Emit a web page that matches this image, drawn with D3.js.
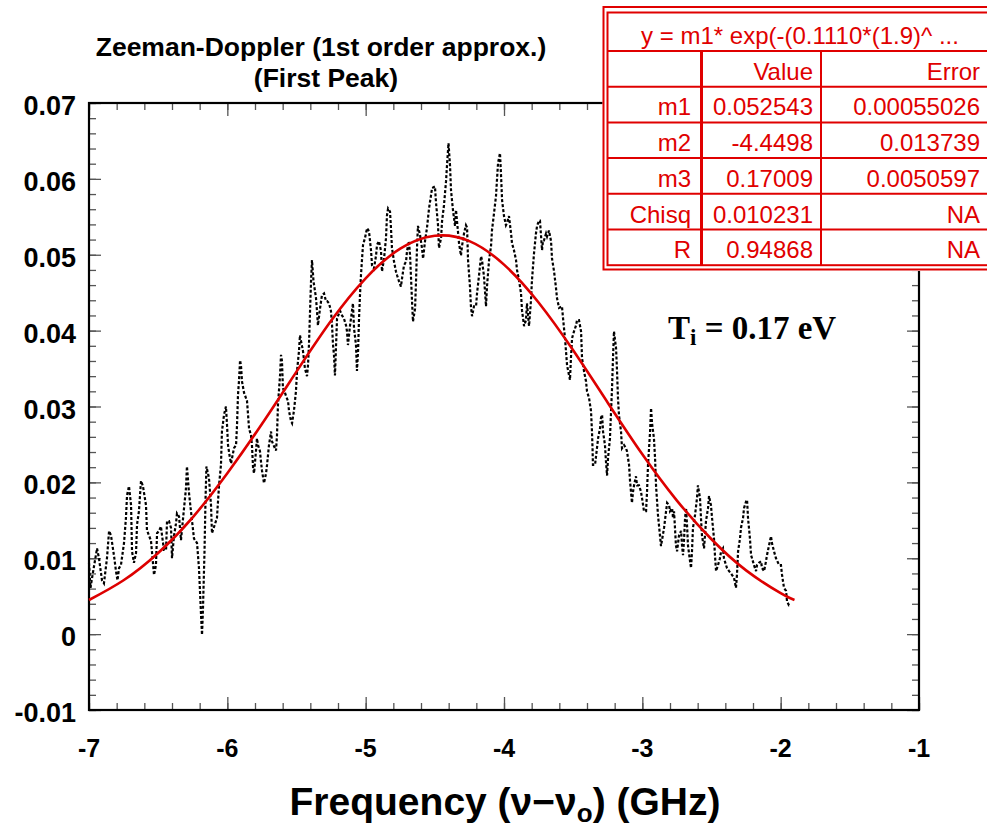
<!DOCTYPE html>
<html><head><meta charset="utf-8">
<script src="https://cdn.jsdelivr.net/npm/d3@7"></script>
<style>body{margin:0;background:#fff}svg{display:block}</style>
</head><body>
<svg id="c" width="987" height="830"></svg>
<script>
const xTicks = [-7, -6, -5, -4, -3, -2, -1];
const xTickLabels = ["-7", "-6", "-5", "-4", "-3", "-2", "-1"];
const yTicks = [-0.01, 0, 0.01, 0.02, 0.03, 0.04, 0.05, 0.06, 0.07];
const yTickLabels = ["-0.01", "0", "0.01", "0.02", "0.03", "0.04", "0.05", "0.06", "0.07"];

// measured spectrum [frequency GHz, signal]
const signal = [
[-7.000,0.0094],[-6.989,0.0061],[-6.978,0.0074],[-6.942,0.0113],[-6.928,0.0100],[-6.906,0.0071],[-6.892,0.0067],[-6.870,0.0100],
[-6.855,0.0136],[-6.841,0.0130],[-6.819,0.0103],[-6.805,0.0083],[-6.794,0.0071],[-6.783,0.0087],[-6.769,0.0091],[-6.747,0.0120],
[-6.733,0.0153],[-6.725,0.0183],[-6.711,0.0195],[-6.696,0.0170],[-6.689,0.0109],[-6.675,0.0094],[-6.660,0.0107],[-6.653,0.0144],
[-6.639,0.0162],[-6.624,0.0202],[-6.610,0.0195],[-6.588,0.0170],[-6.581,0.0137],[-6.552,0.0123],[-6.545,0.0109],[-6.530,0.0078],
[-6.516,0.0091],[-6.508,0.0133],[-6.494,0.0136],[-6.480,0.0142],[-6.472,0.0130],[-6.458,0.0111],[-6.443,0.0111],[-6.436,0.0149],
[-6.422,0.0149],[-6.407,0.0140],[-6.400,0.0100],[-6.386,0.0129],[-6.371,0.0146],[-6.364,0.0159],[-6.349,0.0155],[-6.335,0.0124],
[-6.313,0.0166],[-6.299,0.0192],[-6.292,0.0221],[-6.277,0.0186],[-6.263,0.0162],[-6.241,0.0126],[-6.219,0.0120],[-6.205,0.0087],
[-6.190,0.0025],[-6.183,-0.0001],[-6.176,0.0034],[-6.165,0.0109],[-6.158,0.0175],[-6.151,0.0221],[-6.133,0.0206],[-6.118,0.0170],
[-6.111,0.0133],[-6.075,0.0153],[-6.060,0.0196],[-6.046,0.0223],[-6.039,0.0267],[-6.024,0.0289],[-6.010,0.0300],[-6.002,0.0275],
[-5.995,0.0249],[-5.981,0.0232],[-5.973,0.0225],[-5.966,0.0232],[-5.952,0.0245],[-5.937,0.0249],[-5.930,0.0275],[-5.923,0.0315],
[-5.916,0.0333],[-5.908,0.0361],[-5.901,0.0353],[-5.894,0.0333],[-5.879,0.0318],[-5.865,0.0311],[-5.858,0.0308],[-5.843,0.0271],
[-5.829,0.0262],[-5.822,0.0249],[-5.814,0.0219],[-5.807,0.0212],[-5.793,0.0241],[-5.786,0.0258],[-5.778,0.0249],[-5.764,0.0241],
[-5.757,0.0228],[-5.749,0.0215],[-5.735,0.0199],[-5.720,0.0212],[-5.713,0.0223],[-5.699,0.0249],[-5.684,0.0267],[-5.677,0.0254],
[-5.663,0.0248],[-5.648,0.0242],[-5.641,0.0262],[-5.634,0.0302],[-5.619,0.0341],[-5.612,0.0368],[-5.605,0.0360],[-5.598,0.0324],
[-5.583,0.0318],[-5.576,0.0314],[-5.561,0.0307],[-5.554,0.0294],[-5.540,0.0281],[-5.532,0.0278],[-5.518,0.0295],[-5.504,0.0320],
[-5.496,0.0347],[-5.482,0.0373],[-5.475,0.0394],[-5.467,0.0386],[-5.453,0.0373],[-5.439,0.0350],[-5.424,0.0340],[-5.417,0.0354],
[-5.410,0.0381],[-5.402,0.0426],[-5.395,0.0465],[-5.388,0.0493],[-5.377,0.0465],[-5.359,0.0443],[-5.352,0.0426],[-5.345,0.0407],
[-5.330,0.0429],[-5.316,0.0447],[-5.301,0.0449],[-5.287,0.0439],[-5.279,0.0439],[-5.265,0.0436],[-5.251,0.0426],[-5.243,0.0407],
[-5.236,0.0381],[-5.229,0.0368],[-5.222,0.0341],[-5.214,0.0381],[-5.207,0.0416],[-5.185,0.0426],[-5.171,0.0420],[-5.157,0.0416],
[-5.142,0.0407],[-5.135,0.0399],[-5.128,0.0381],[-5.113,0.0407],[-5.106,0.0416],[-5.099,0.0426],[-5.092,0.0436],[-5.084,0.0403],
[-5.070,0.0381],[-5.063,0.0347],[-5.055,0.0373],[-5.048,0.0416],[-5.041,0.0447],[-5.034,0.0473],[-5.026,0.0495],[-5.019,0.0513],
[-5.005,0.0522],[-4.990,0.0535],[-4.976,0.0531],[-4.961,0.0505],[-4.954,0.0486],[-4.940,0.0482],[-4.925,0.0499],[-4.918,0.0513],
[-4.904,0.0518],[-4.889,0.0505],[-4.882,0.0478],[-4.867,0.0495],[-4.853,0.0522],[-4.846,0.0552],[-4.838,0.0561],[-4.824,0.0557],
[-4.817,0.0535],[-4.810,0.0509],[-4.795,0.0491],[-4.781,0.0478],[-4.773,0.0473],[-4.759,0.0465],[-4.745,0.0458],[-4.737,0.0469],
[-4.723,0.0486],[-4.708,0.0491],[-4.701,0.0505],[-4.687,0.0518],[-4.679,0.0499],[-4.672,0.0469],[-4.665,0.0439],[-4.658,0.0412],
[-4.643,0.0429],[-4.636,0.0465],[-4.629,0.0509],[-4.622,0.0538],[-4.607,0.0526],[-4.593,0.0509],[-4.585,0.0495],[-4.571,0.0518],
[-4.557,0.0535],[-4.542,0.0561],[-4.528,0.0578],[-4.520,0.0588],[-4.499,0.0590],[-4.492,0.0570],[-4.477,0.0539],[-4.470,0.0509],
[-4.455,0.0522],[-4.448,0.0544],[-4.434,0.0565],[-4.419,0.0597],[-4.412,0.0618],[-4.401,0.0647],[-4.390,0.0617],[-4.383,0.0585],
[-4.369,0.0559],[-4.354,0.0538],[-4.347,0.0559],[-4.340,0.0545],[-4.325,0.0515],[-4.311,0.0499],[-4.304,0.0511],[-4.289,0.0528],
[-4.275,0.0539],[-4.267,0.0536],[-4.260,0.0493],[-4.246,0.0458],[-4.239,0.0432],[-4.231,0.0419],[-4.217,0.0432],[-4.202,0.0432],
[-4.195,0.0449],[-4.181,0.0472],[-4.166,0.0498],[-4.159,0.0493],[-4.145,0.0472],[-4.130,0.0432],[-4.123,0.0458],[-4.108,0.0493],
[-4.094,0.0511],[-4.087,0.0532],[-4.072,0.0555],[-4.058,0.0577],[-4.051,0.0598],[-4.043,0.0621],[-4.029,0.0634],[-4.022,0.0607],
[-4.014,0.0572],[-4.000,0.0551],[-3.986,0.0539],[-3.978,0.0542],[-3.964,0.0551],[-3.949,0.0528],[-3.942,0.0515],[-3.928,0.0506],
[-3.913,0.0493],[-3.906,0.0480],[-3.891,0.0466],[-3.877,0.0449],[-3.870,0.0427],[-3.855,0.0406],[-3.841,0.0414],[-3.834,0.0436],
[-3.819,0.0406],[-3.805,0.0440],[-3.798,0.0466],[-3.783,0.0502],[-3.769,0.0528],[-3.761,0.0538],[-3.747,0.0545],[-3.740,0.0545],
[-3.725,0.0506],[-3.718,0.0519],[-3.711,0.0519],[-3.696,0.0528],[-3.689,0.0524],[-3.675,0.0532],[-3.660,0.0518],[-3.653,0.0495],
[-3.638,0.0478],[-3.624,0.0456],[-3.617,0.0443],[-3.602,0.0430],[-3.581,0.0432],[-3.573,0.0416],[-3.559,0.0390],[-3.544,0.0354],
[-3.523,0.0335],[-3.516,0.0364],[-3.508,0.0390],[-3.494,0.0399],[-3.479,0.0407],[-3.472,0.0414],[-3.458,0.0414],[-3.443,0.0399],
[-3.436,0.0364],[-3.422,0.0347],[-3.407,0.0333],[-3.400,0.0320],[-3.385,0.0311],[-3.371,0.0294],[-3.364,0.0267],[-3.360,0.0245],
[-3.357,0.0223],[-3.342,0.0223],[-3.328,0.0245],[-3.320,0.0258],[-3.306,0.0271],[-3.299,0.0285],[-3.291,0.0289],[-3.284,0.0267],
[-3.270,0.0249],[-3.263,0.0228],[-3.255,0.0209],[-3.248,0.0232],[-3.234,0.0258],[-3.226,0.0294],[-3.219,0.0324],[-3.212,0.0364],
[-3.205,0.0399],[-3.190,0.0377],[-3.183,0.0347],[-3.176,0.0311],[-3.169,0.0289],[-3.154,0.0267],[-3.147,0.0245],[-3.132,0.0249],
[-3.118,0.0245],[-3.111,0.0241],[-3.096,0.0223],[-3.089,0.0202],[-3.075,0.0173],[-3.067,0.0188],[-3.060,0.0196],[-3.046,0.0208],
[-3.038,0.0196],[-3.024,0.0196],[-3.010,0.0188],[-3.002,0.0179],[-2.988,0.0162],[-2.973,0.0162],[-2.966,0.0188],[-2.959,0.0223],
[-2.944,0.0267],[-2.937,0.0298],[-2.930,0.0278],[-2.916,0.0258],[-2.908,0.0232],[-2.901,0.0196],[-2.887,0.0157],[-2.865,0.0116],
[-2.843,0.0140],[-2.821,0.0173],[-2.807,0.0170],[-2.800,0.0162],[-2.785,0.0166],[-2.778,0.0153],[-2.771,0.0162],[-2.764,0.0140],
[-2.757,0.0117],[-2.749,0.0109],[-2.735,0.0130],[-2.720,0.0136],[-2.713,0.0117],[-2.706,0.0104],[-2.699,0.0123],[-2.691,0.0153],
[-2.684,0.0166],[-2.677,0.0144],[-2.670,0.0117],[-2.655,0.0096],[-2.648,0.0087],[-2.641,0.0109],[-2.634,0.0140],[-2.619,0.0157],
[-2.605,0.0179],[-2.598,0.0196],[-2.583,0.0179],[-2.576,0.0153],[-2.569,0.0130],[-2.554,0.0113],[-2.547,0.0130],[-2.540,0.0149],
[-2.525,0.0166],[-2.518,0.0182],[-2.504,0.0170],[-2.496,0.0153],[-2.482,0.0126],[-2.475,0.0104],[-2.467,0.0083],[-2.453,0.0091],
[-2.439,0.0100],[-2.431,0.0109],[-2.417,0.0113],[-2.410,0.0100],[-2.395,0.0091],[-2.388,0.0087],[-2.373,0.0083],[-2.359,0.0080],
[-2.352,0.0078],[-2.337,0.0074],[-2.323,0.0061],[-2.316,0.0078],[-2.308,0.0109],[-2.294,0.0126],[-2.287,0.0140],[-2.272,0.0153],
[-2.265,0.0166],[-2.250,0.0175],[-2.243,0.0177],[-2.236,0.0153],[-2.222,0.0126],[-2.214,0.0104],[-2.207,0.0100],[-2.193,0.0091],
[-2.178,0.0083],[-2.171,0.0091],[-2.157,0.0094],[-2.142,0.0096],[-2.135,0.0087],[-2.120,0.0083],[-2.106,0.0096],[-2.099,0.0104],
[-2.084,0.0117],[-2.070,0.0129],[-2.063,0.0120],[-2.048,0.0109],[-2.034,0.0100],[-2.026,0.0097],[-2.012,0.0091],[-1.998,0.0091],
[-1.990,0.0078],[-1.976,0.0061],[-1.961,0.0057],[-1.954,0.0043],[-1.940,0.0038],[-1.925,0.0038]
];

// fitted Gaussian curve
const fitFreq  = [-7.0, -6.75, -6.5, -6.25, -6.0, -5.75, -5.5, -5.25, -5.0, -4.75, -4.5, -4.25, -4.0, -3.75, -3.5, -3.25, -3.0, -2.75, -2.5, -2.25, -2.0, -1.9];
const fitValue = [0.0045, 0.0071, 0.0107, 0.0154, 0.0212, 0.0277, 0.0346, 0.0413, 0.0469, 0.0508, 0.0525, 0.0518, 0.0487, 0.0437, 0.0374, 0.0305, 0.0237, 0.0176, 0.0125, 0.0084, 0.0054, 0.0045];

const tableTitle = "y = m1* exp(-(0.1110*(1.9)^ ...";
const tableHead = ["", "Value", "Error"];
const tableNames = ["m1", "m2", "m3", "Chisq", "R"];
const tableValues = ["0.052543", "-4.4498", "0.17009", "0.010231", "0.94868"];
const tableErrors = ["0.00055026", "0.013739", "0.0050597", "NA", "NA"];

const svg = d3.select("#c");
const L = 89, R = 919, T = 103, B = 710;
const x = d3.scaleLinear().domain([-7, -1]).range([L, R]);
const y = d3.scaleLinear().domain([-0.01, 0.07]).range([B, T]);

const tickColor = "#555";
function styleAxis(g) {
  g.select(".domain").remove();
  g.selectAll(".tick line").attr("stroke", tickColor).attr("stroke-width", 1.3);
  g.selectAll("text").remove();
}
const xMinor = d3.range(-7, -0.99, 0.2).map(v => +v.toFixed(2));
const yMinor = d3.range(-0.01, 0.0701, 0.002).map(v => +v.toFixed(4));

// bottom & top ticks (inward)
svg.append("g").attr("transform", `translate(0,${B})`).call(d3.axisBottom(x).tickValues(xMinor).tickSize(-7)).call(styleAxis);
svg.append("g").attr("transform", `translate(0,${B})`).call(d3.axisBottom(x).tickValues(xTicks).tickSize(-13)).call(styleAxis);
svg.append("g").attr("transform", `translate(0,${T})`).call(d3.axisTop(x).tickValues(xMinor).tickSize(-7)).call(styleAxis);
svg.append("g").attr("transform", `translate(0,${T})`).call(d3.axisTop(x).tickValues(xTicks).tickSize(-13)).call(styleAxis);
// left & right ticks (inward)
svg.append("g").attr("transform", `translate(${L},0)`).call(d3.axisLeft(y).tickValues(yMinor).tickSize(-7)).call(styleAxis);
svg.append("g").attr("transform", `translate(${L},0)`).call(d3.axisLeft(y).tickValues(yTicks).tickSize(-12)).call(styleAxis);
svg.append("g").attr("transform", `translate(${R},0)`).call(d3.axisRight(y).tickValues(yMinor).tickSize(-7)).call(styleAxis);
svg.append("g").attr("transform", `translate(${R},0)`).call(d3.axisRight(y).tickValues(yTicks).tickSize(-12)).call(styleAxis);

// frame
svg.append("rect").attr("x", L).attr("y", T).attr("width", R - L).attr("height", B - T)
  .attr("fill", "none").attr("stroke", "#000").attr("stroke-width", 2.2);

// tick labels
svg.append("g").selectAll("text").data(yTicks).join("text")
  .attr("x", 76).attr("y", d => y(d) + 12)
  .attr("text-anchor", "end").attr("font-family", "Liberation Sans, Arial, sans-serif")
  .attr("font-weight", "bold").attr("font-size", 27)
  .text((d, i) => yTickLabels[i]);
svg.append("g").selectAll("text").data(xTicks).join("text")
  .attr("x", d => x(d)).attr("y", 757)
  .attr("text-anchor", "middle").attr("font-family", "Liberation Sans, Arial, sans-serif")
  .attr("font-weight", "bold").attr("font-size", 25)
  .text((d, i) => xTickLabels[i]);

// data
const line = d3.line().x(d => x(d[0])).y(d => y(d[1]));
svg.append("path").datum(signal).attr("d", line)
  .attr("fill", "none").attr("stroke", "#000").attr("stroke-width", 2.2)
  .attr("stroke-dasharray", "3,2");

const fitLine = d3.line().x(d => x(d[0])).y(d => y(d[1])).curve(d3.curveNatural);
svg.append("path").datum(fitFreq.map((f, i) => [f, fitValue[i]])).attr("d", fitLine)
  .attr("fill", "none").attr("stroke", "#dd0000").attr("stroke-width", 2.6);

// title
const title = svg.append("text").attr("text-anchor", "middle")
  .attr("font-family", "Liberation Sans, Arial, sans-serif").attr("font-weight", "bold").attr("font-size", 26.5);
title.append("tspan").attr("x", 321).attr("y", 56).text("Zeeman-Doppler (1st order approx.)");
title.append("tspan").attr("x", 326).attr("y", 87).text("(First Peak)");

// x axis title
const xt = svg.append("text").attr("x", 505).attr("y", 815).attr("text-anchor", "middle")
  .attr("font-family", "Liberation Sans, Arial, sans-serif").attr("font-weight", "bold").attr("font-size", 39);
xt.append("tspan").text("Frequency (\u03BD\u2212\u03BD");
xt.append("tspan").attr("font-size", 26).attr("dy", 7).text("o");
xt.append("tspan").attr("dy", -7).text(") (GHz)");

// Ti annotation
const ti = svg.append("text").attr("x", 668).attr("y", 339)
  .attr("font-family", "Liberation Serif, Times New Roman, serif").attr("font-weight", "bold").attr("font-size", 33);
ti.append("tspan").text("T");
ti.append("tspan").attr("font-size", 23).attr("dy", 6).text("i");
ti.append("tspan").attr("dy", -6).text(" = 0.17 eV");

// fit table
const red = "#e00000";
const tg = svg.append("g");
const tx0 = 603.5, tx1 = 607.5, tRight = 1005;
const rowY = [12.5, 51, 86.7, 122.4, 158.1, 193.8, 229.5, 265.2];
tg.append("rect").attr("x", tx0 - 1).attr("y", 6).attr("width", tRight - tx0).attr("height", 265).attr("fill", "#fff");
tg.append("rect").attr("x", tx0).attr("y", 7).attr("width", tRight - tx0).attr("height", 262.5)
  .attr("fill", "none").attr("stroke", red).attr("stroke-width", 2);
tg.append("rect").attr("x", tx1).attr("y", rowY[0]).attr("width", tRight - tx1).attr("height", rowY[7] - rowY[0])
  .attr("fill", "none").attr("stroke", red).attr("stroke-width", 2);
tg.selectAll("line.h").data(rowY.slice(1, 7)).join("line").attr("class", "h")
  .attr("x1", tx1).attr("x2", tRight).attr("y1", d => d).attr("y2", d => d)
  .attr("stroke", red).attr("stroke-width", 2);
tg.append("line").attr("x1", 701.5).attr("x2", 701.5).attr("y1", rowY[1]).attr("y2", rowY[7]).attr("stroke", red).attr("stroke-width", 3);
tg.append("line").attr("x1", 821).attr("x2", 821).attr("y1", rowY[1]).attr("y2", rowY[7]).attr("stroke", red).attr("stroke-width", 2);

const tfont = g => g.attr("font-family", "Liberation Sans, Arial, sans-serif").attr("font-size", 24).attr("fill", red);
tg.append("text").attr("x", 800).attr("y", 44).attr("text-anchor", "middle").call(tfont).text(tableTitle);
const colX = [691, 813, 980];
tableHead.forEach((h, j) => {
  tg.append("text").attr("x", colX[j]).attr("y", rowY[2] - 7).attr("text-anchor", "end").call(tfont).text(h);
});
tableNames.forEach((n, i) => {
  const yy = rowY[i + 3] - 7;
  tg.append("text").attr("x", colX[0]).attr("y", yy).attr("text-anchor", "end").call(tfont).text(n);
  tg.append("text").attr("x", colX[1]).attr("y", yy).attr("text-anchor", "end").call(tfont).text(tableValues[i]);
  tg.append("text").attr("x", colX[2]).attr("y", yy).attr("text-anchor", "end").call(tfont).text(tableErrors[i]);
});
</script>
</body></html>
